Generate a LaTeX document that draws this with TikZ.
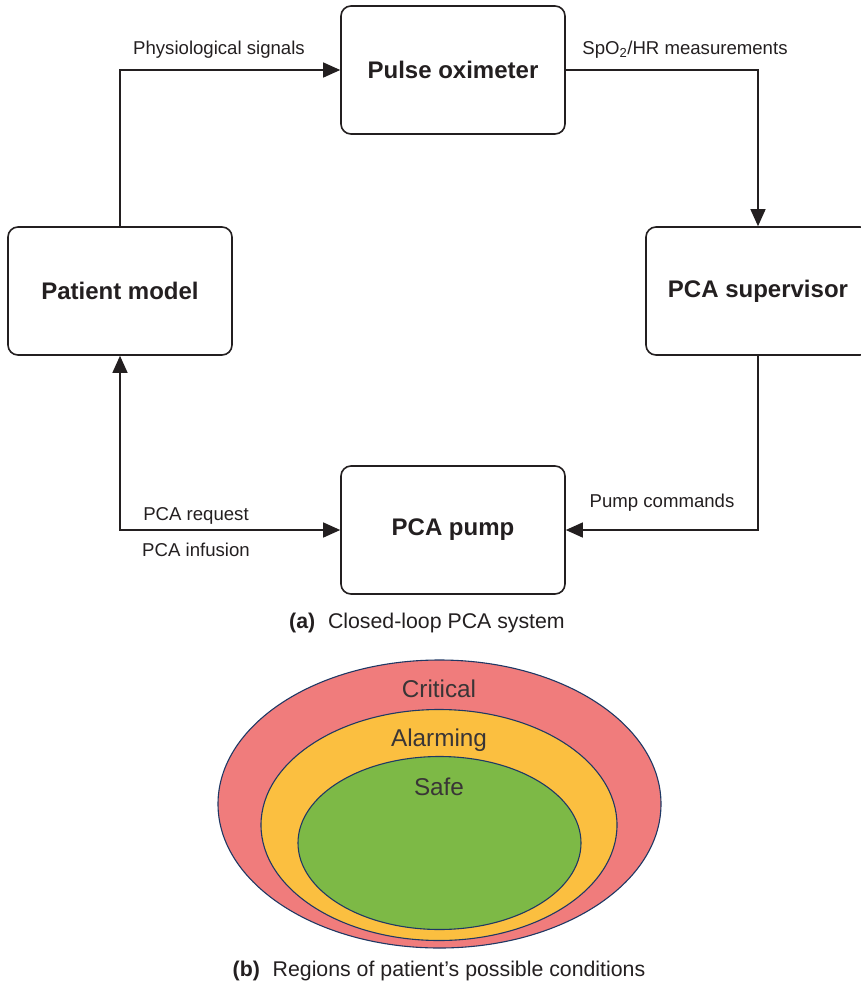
\documentclass[tikz,border=0pt]{standalone}
\usepackage{fontspec}
\setmainfont{Liberation Sans}
\usetikzlibrary{arrows.meta,shapes.geometric}
\definecolor{ink}{HTML}{231F20}
\definecolor{critred}{HTML}{F07C7C}
\definecolor{alarmorange}{HTML}{FBBF40}
\definecolor{safegreen}{HTML}{7DB946}
\definecolor{rimblue}{HTML}{1F3864}
\begin{document}
\begin{tikzpicture}[x=1pt,y=-1pt,
  blockbox/.style={draw=ink, line width=1.6pt, rounded corners=10pt,
    minimum width=224pt, minimum height=128pt, inner sep=0pt,
    font=\fontsize{24}{28}\selectfont\bfseries, text=ink},
  conn/.style={draw=ink, line width=1.3pt, -{Triangle[length=17pt,width=15pt]}},
  lbl/.style={font=\fontsize{18.6}{21}\selectfont, text=ink, inner sep=0pt},
  caption/.style={font=\fontsize{21.3}{25}\selectfont, text=ink, inner sep=0pt},
  region/.style={draw=rimblue, line width=1.1pt},
  regionlbl/.style={font=\fontsize{24.3}{28}\selectfont, text=ink!90, inner sep=0pt}]
\useasboundingbox (0,0) rectangle (861,986);

% (a) closed-loop system blocks
\node[blockbox] (po) at (453,70)  {Pulse oximeter};
\node[blockbox] (pm) at (120,291) {Patient model};
\node[blockbox] (ps) at (758,291) {PCA supervisor};
\node[blockbox] (pp) at (453,530) {PCA pump};

% signal flow
\draw[conn] (pm.north) |- (po.west);
\draw[conn] (po.east) -| (ps.north);
\draw[conn] (ps.south) |- (pp.east);
\draw[conn, {Triangle[length=17pt,width=15pt]}-{Triangle[length=17pt,width=15pt]}] (pm.south) |- (pp.west);

\node[lbl] (l1) at (219,50) {Physiological signals};
\node[lbl] (l2) at (685,50) {SpO\textsubscript{2}/HR measurements};
\node[lbl] (l3) at (662,503) {Pump commands};
\node[lbl] (l4) at (196,516) {PCA request};
\node[lbl] (l5) at (196,550) {PCA infusion};

\node[caption] (capa) at (427,623) {\textbf{(a)}\hspace{0.6em}Closed-loop PCA system};

% (b) nested condition regions
\node[ellipse, region, fill=critred, minimum width=443pt, minimum height=288pt, inner sep=0pt] (crit) at (439.5,804) {};
\node[ellipse, region, fill=alarmorange, minimum width=356pt, minimum height=231pt, inner sep=0pt] (alarm) at (439,825) {};
\node[ellipse, region, fill=safegreen, minimum width=283pt, minimum height=173pt, inner sep=0pt] (safe) at (439.5,843) {};

\node[regionlbl] (tcrit) at (439,689) {Critical};
\node[regionlbl] (talarm) at (439,740) {Alarming};
\node[regionlbl] (tsafe) at (439,787) {Safe};

\node[caption] (capb) at (439,971) {\textbf{(b)}\hspace{0.6em}Regions of patient’s possible conditions};
\end{tikzpicture}
\end{document}
